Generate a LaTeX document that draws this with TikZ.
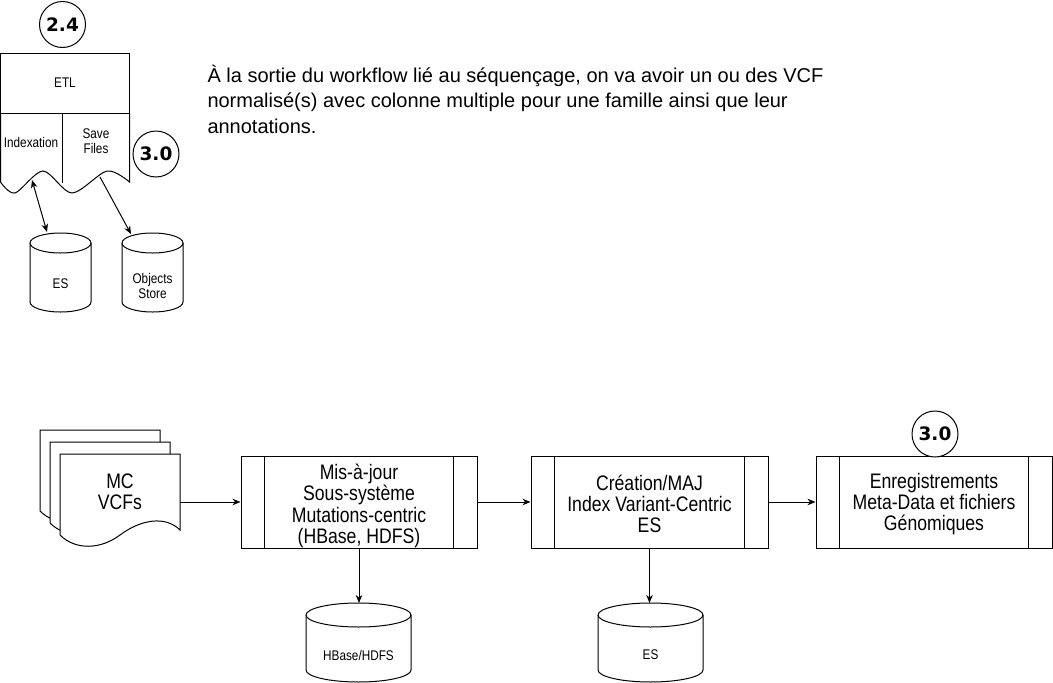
\documentclass[tikz,border=0pt]{standalone}
\usepackage{fontspec}
\setmainfont{Liberation Sans}[FakeStretch=0.84]
\newfontfamily\plainsans{Liberation Sans}
\newfontfamily\dvs{DejaVu Sans}
\usetikzlibrary{arrows.meta}
\newcommand\mycyl[5]{%
 \pgfmathsetmacro\cyL{#1}\pgfmathsetmacro\cyR{#2}\pgfmathsetmacro\cyT{#3}\pgfmathsetmacro\cyB{#4}\pgfmathsetmacro\cyry{#5}%
 \pgfmathsetmacro\cyC{(\cyL+\cyR)/2}\pgfmathsetmacro\cyrx{(\cyR-\cyL)/2}%
 \pgfmathsetmacro\cyYt{\cyT+\cyry}\pgfmathsetmacro\cyYb{\cyB-\cyry}%
 \pgfmathsetmacro\cykx{0.5523*\cyrx}\pgfmathsetmacro\cyky{0.5523*\cyry}%
 \pgfmathsetmacro\cyTT{\cyT+2*\cyry}%
 \draw[cylline] ({\cyL},{\cyYt}) -- ({\cyL},{\cyYb})
   .. controls ({\cyL},{\cyYb+\cyky}) and ({\cyC-\cykx},{\cyB}) .. ({\cyC},{\cyB})
   .. controls ({\cyC+\cykx},{\cyB}) and ({\cyR},{\cyYb+\cyky}) .. ({\cyR},{\cyYb})
   -- ({\cyR},{\cyYt})
   .. controls ({\cyR},{\cyYt-\cyky}) and ({\cyC+\cykx},{\cyT}) .. ({\cyC},{\cyT})
   .. controls ({\cyC-\cykx},{\cyT}) and ({\cyL},{\cyYt-\cyky}) .. ({\cyL},{\cyYt}) -- cycle;
 \draw[cylline] ({\cyL},{\cyYt})
   .. controls ({\cyL},{\cyYt+\cyky}) and ({\cyC-\cykx},{\cyTT}) .. ({\cyC},{\cyTT})
   .. controls ({\cyC+\cykx},{\cyTT}) and ({\cyR},{\cyYt+\cyky}) .. ({\cyR},{\cyYt});
}
\begin{document}
\begin{tikzpicture}[x=1pt,y=-1pt,line width=1pt,
 lbl/.style={font=\fontsize{14}{14.5}\selectfont, align=center, inner sep=0},
 big/.style={font=\fontsize{21}{21.3}\selectfont, align=center, inner sep=0},
 num/.style={draw, circle, minimum size=46pt, inner sep=0, fill=white, font=\dvs\bfseries\fontsize{18.5}{18.5}\selectfont},
 proc/.style={draw, minimum width=236pt, minimum height=92pt, inner sep=0},
 arr/.style={-{Stealth[length=8pt,width=6.5pt,inset=2.5pt]}},
 darr/.style={{Stealth[length=8pt,width=6.5pt,inset=2.5pt]}-{Stealth[length=8pt,width=6.5pt,inset=2.5pt]}},
 cylline/.style={fill=white},
 docline/.style={fill=white}]
\useasboundingbox (0,0) rectangle (1053,683);

% ---------- top part ----------
\node[num] (n24) at (62.5,24.5) {2.4};
\draw (0.5,53) rectangle (129.5,113);
\node[lbl] (etl) at (65,83) {ETL};
\draw (0.5,113) -- (0.5,182) -- plot[smooth] coordinates {(0.5,182) (15,193) (43,171) (72,193) (107,171) (129.5,182)} -- (129.5,113);
\draw (62,113) -- (62,183);
\node[lbl] (idx) at (31,142) {Indexation};
\node[lbl] (save) at (96,141) {Save\\Files};
\node[num] (n30a) at (156,154) {3.0};

\mycyl{30}{91}{233}{312}{10}
\node[lbl] (es1) at (60.5,284) {ES};
\mycyl{122}{183}{233}{312}{10}
\node[lbl] (os) at (152.5,286) {Objects\\Store};

\coordinate (idxw) at (32,180);
\coordinate (es1top) at (47,232);
\draw[darr] (idxw) -- (es1top);
\coordinate (savew) at (100,177);
\coordinate (ostop) at (131,234);
\draw[arr] (savew) -- (ostop);

\node[anchor=base west, align=left, inner sep=0, font=\plainsans\fontsize{20}{25.5}\selectfont] (para) at (207,133)
 {À la sortie du workflow lié au séquençage, on va avoir un ou des VCF\\
  normalisé(s) avec colonne multiple pour une famille ainsi que leur\\
  annotations.};

% ---------- bottom part ----------
\foreach \s in {20,10,0}{
 \begin{scope}[shift={(-\s,-1.2*\s)}]
  \draw[docline] (60,454) -- (180,454) -- (180,530)
    .. controls (165,515) and (140,520) .. (120,535)
    .. controls (100,550) and (75,550) .. (60,535) -- cycle;
 \end{scope}
}
\node[big] (mc) at (120,492) {MC\\VCFs};
\coordinate (mcr) at (180,502);

\node[proc] (b1) at (359,502) {};
\node[proc, minimum width=237pt] (b2) at (649.5,502) {};
\node[proc] (b3) at (934,502) {};
\node[big] (b1t) at (359,506) {Mis-à-jour\\Sous-système\\Mutations-centric\\(HBase, HDFS)};
\node[big] (b2t) at (649.5,504) {Création/MAJ\\Index Variant-Centric\\ES};
\node[big] (b3t) at (934,504) {Enregistrements\\Meta-Data et fichiers\\Génomiques};
\foreach \b in {b1,b2,b3}{
 \draw ([xshift=24pt]\b.north west) -- ([xshift=24pt]\b.south west);
 \draw ([xshift=-24pt]\b.north east) -- ([xshift=-24pt]\b.south east);
}
\node[num] (n30b) at (935,434) {3.0};

\draw[arr] (mcr) -- (b1.west);
\draw[arr] (b1.east) -- (b2.west);
\draw[arr] (b2.east) -- (b3.west);

\mycyl{306}{411}{603}{682}{12}
\node[lbl] (hb) at (358.5,655) {HBase/HDFS};
\mycyl{598}{703}{603}{682}{12}
\node[lbl] (es2) at (650.5,655) {ES};
\coordinate (hbtop) at (359,603);
\coordinate (es2top) at (649.5,603);
\draw[arr] (b1.south) -- (hbtop);
\draw[arr] (b2.south) -- (es2top);
\end{tikzpicture}
\end{document}
